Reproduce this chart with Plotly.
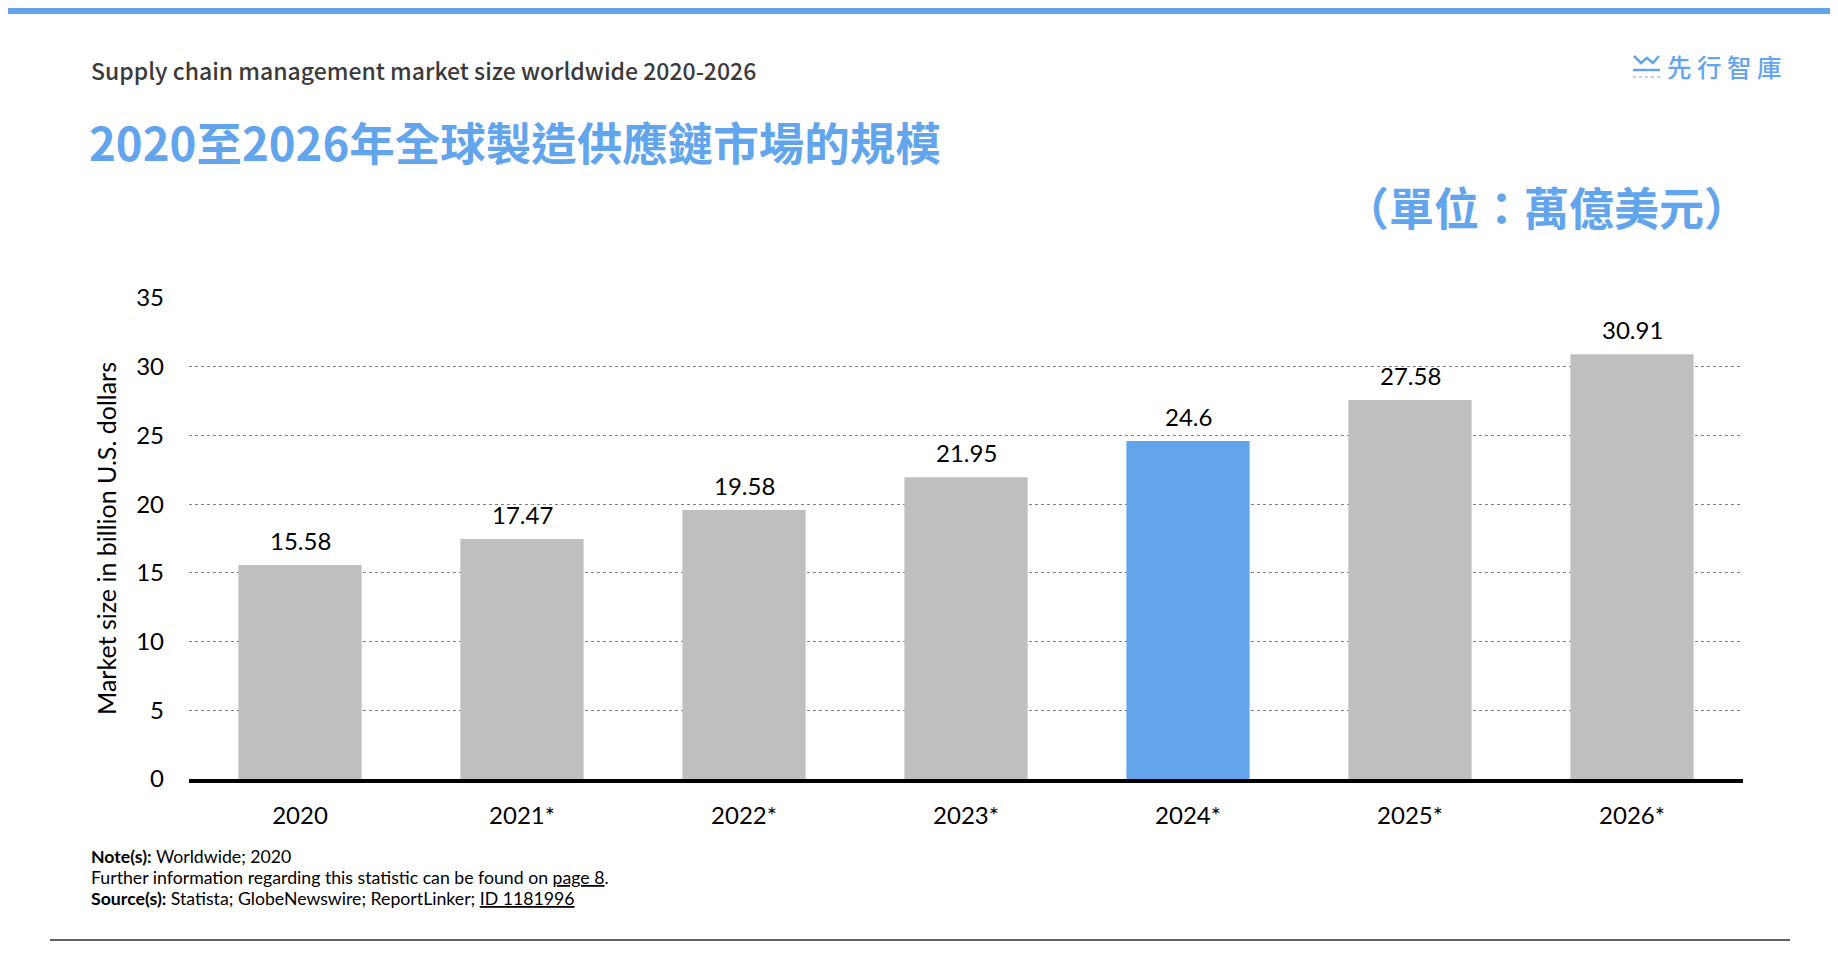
import plotly.graph_objects as go

categories = ["2020", "2021*", "2022*", "2023*", "2024*", "2025*", "2026*"]
values = [15.58, 17.47, 19.58, 21.95, 24.6, 27.58, 30.91]
value_labels = ["15.58", "17.47", "19.58", "21.95", "24.6", "27.58", "30.91"]
y_ticks = [0, 5, 10, 15, 20, 25, 30, 35]
highlight = "2024*"

# page is offset by the 8px body margin; work in figure coordinates
OFF = 8
W, H = 1838 - OFF, 966 - OFF
L, R, T, B = 189 - OFF, 1743 - OFF, 298 - OFF, 779 - OFF

def px(x):
    return (x - OFF - L) / (R - L)

def py(y):
    return (B - (y - OFF)) / (B - T)

BLUE = "#62A5EC"
GRAY = "#BFBFBF"
CHART_FONT = "Lato, 'Noto Sans', sans-serif"
CJK = "'Noto Sans CJK TC', 'Noto Sans', sans-serif"

colors = [BLUE if c == highlight else GRAY for c in categories]

fig = go.Figure()
fig.add_trace(go.Bar(x=categories, y=values, marker=dict(color=colors, line=dict(width=0)),
                     hoverinfo="x+y"))

annotations = []
for i, (v, t) in enumerate(zip(values, value_labels)):
    annotations.append(dict(x=i, y=v, xref="x", yref="y", text=t, showarrow=False,
                            yanchor="bottom", yshift=8,
                            font=dict(family=CHART_FONT, size=24, color="#000000")))

annotations += [
    dict(x=px(89), y=py(70), xref="paper", yref="paper", xanchor="left", yanchor="middle",
         text="Supply chain management market size worldwide 2020-2026", showarrow=False,
         font=dict(family=CJK, size=23, color="#3a3a3a", weight=500)),
    dict(x=px(87), y=py(141), xref="paper", yref="paper", xanchor="left", yanchor="middle",
         text="<b>2020至2026年全球製造供應鏈市場的規模</b>", showarrow=False,
         font=dict(family=CJK, size=45.5, color=BLUE)),
    dict(x=px(1751), y=py(206), xref="paper", yref="paper", xanchor="right", yanchor="middle",
         text="<b>（單位：萬億美元）</b>", showarrow=False,
         font=dict(family=CJK, size=45, color=BLUE)),
    dict(x=px(1784), y=py(66), xref="paper", yref="paper", xanchor="right", yanchor="middle",
         text="先 行 智 庫", showarrow=False,
         font=dict(family=CJK, size=24.5, color=BLUE, weight=500)),
    dict(x=px(89), y=py(856), xref="paper", yref="paper", xanchor="left", yanchor="middle",
         text="<b>Note(s):</b> Worldwide; 2020", showarrow=False,
         font=dict(family=CHART_FONT, size=17.7, color="#000000")),
    dict(x=px(89), y=py(877), xref="paper", yref="paper", xanchor="left", yanchor="middle",
         text="Further information regarding this statistic can be found on <u>page 8</u>.",
         showarrow=False, font=dict(family=CHART_FONT, size=17.7, color="#000000")),
    dict(x=px(89), y=py(898), xref="paper", yref="paper", xanchor="left", yanchor="middle",
         text="<b>Source(s):</b> Statista; GlobeNewswire; ReportLinker; <u>ID 1181996</u>",
         showarrow=False, font=dict(family=CHART_FONT, size=17.7, color="#000000")),
]

shapes = [
    dict(type="rect", xref="paper", yref="paper", x0=px(0), x1=px(1838 + OFF), y0=py(OFF), y1=py(OFF + 6),
         fillcolor=BLUE, line=dict(width=0), layer="above"),
    dict(type="line", xref="paper", yref="paper", x0=px(50), x1=px(1790), y0=py(940), y1=py(940),
         line=dict(color="#606060", width=2)),
    # logo icon
    dict(type="path", xref="paper", yref="paper",
         path=f"M {px(1634)} {py(56)} L {px(1641)} {py(63)} L {px(1647)} {py(58)} L {px(1653)} {py(63)} L {px(1659)} {py(56)}",
         line=dict(color=BLUE, width=2.5)),
    dict(type="line", xref="paper", yref="paper", x0=px(1633), x1=px(1660), y0=py(70), y1=py(70),
         line=dict(color=BLUE, width=2.5)),
    dict(type="line", xref="paper", yref="paper", x0=px(1633), x1=px(1660), y0=py(77), y1=py(77),
         line=dict(color="#9EC6F0", width=1.5, dash="dot")),
]

fig.update_layout(
    width=W, height=H,
    margin=dict(l=L, r=W - R, t=T, b=H - B, pad=0),
    paper_bgcolor="white", plot_bgcolor="white",
    showlegend=False,
    bargap=0.445,
    annotations=annotations,
    shapes=shapes,
    font=dict(family=CHART_FONT, size=24, color="#000000"),
)
fig.update_xaxes(
    type="category", range=[-0.5, len(categories) - 0.5],
    showline=True, linecolor="#000000", linewidth=4,
    showgrid=False, zeroline=False, ticks="",
    tickfont=dict(family=CHART_FONT, size=24, color="#000000"),
    ticklabelstandoff=12,
)
fig.update_yaxes(
    range=[0, 35], tickvals=y_ticks, ticktext=[str(v) for v in y_ticks],
    showgrid=True, gridcolor="#808080", gridwidth=1, griddash="dot",
    zeroline=False, showline=False, ticks="",
    tickfont=dict(family=CHART_FONT, size=24, color="#000000"),
    ticklabelstandoff=24,
    title=dict(text="Market size in billion U.S. dollars", standoff=12,
               font=dict(family=CHART_FONT, size=25, color="#000000")),
)

fig.write_html("out.html")
